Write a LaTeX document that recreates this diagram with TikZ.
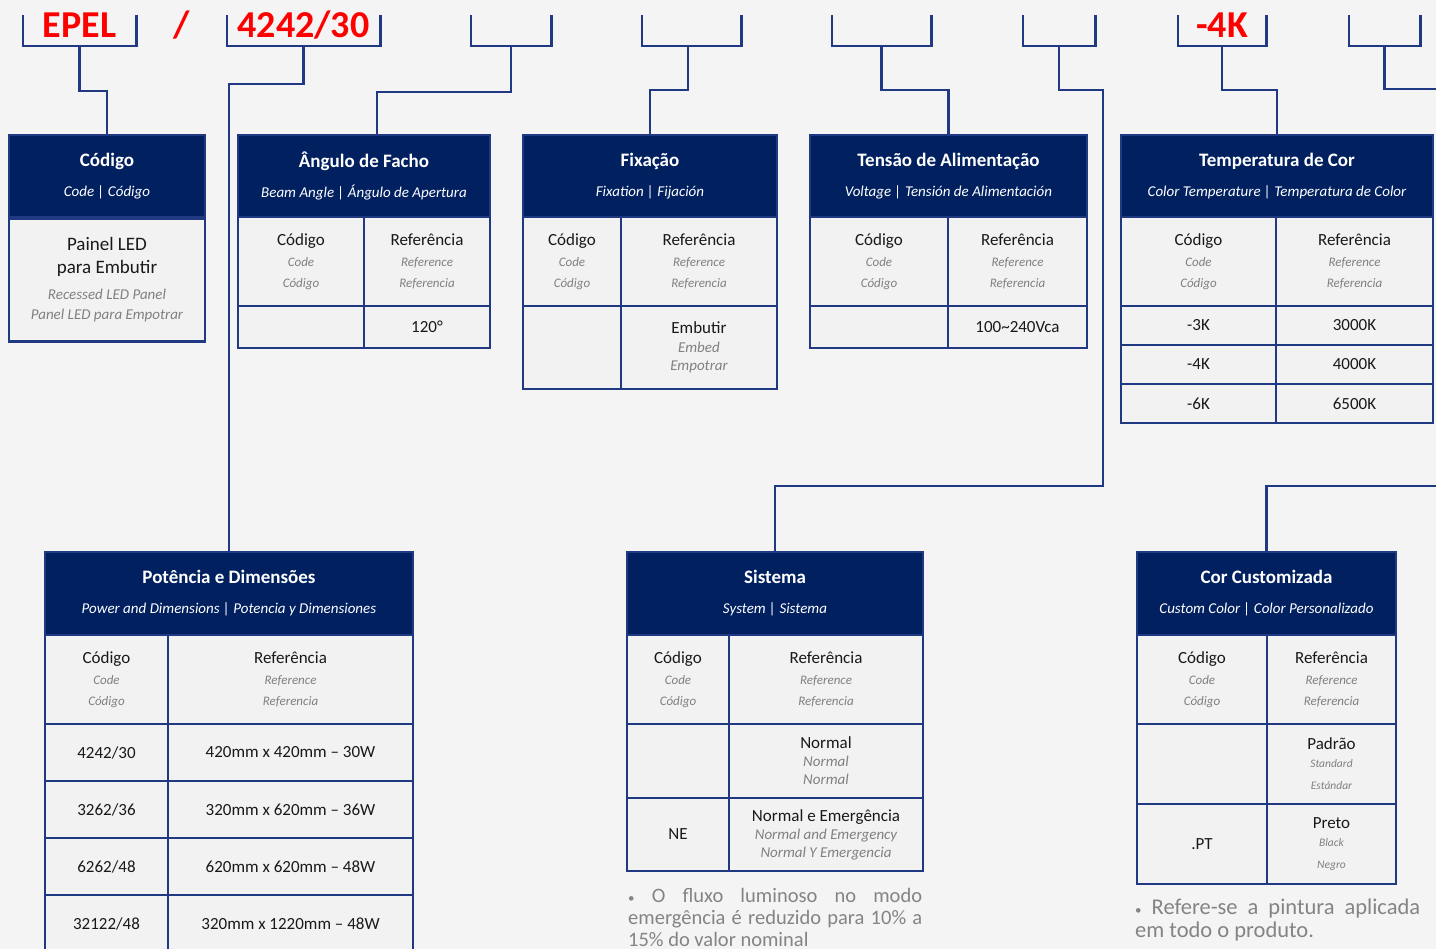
\documentclass[tikz,border=0pt]{standalone}
\usepackage{fontspec}
\setmainfont{Carlito}
\usepackage{tikz}
\usepackage{xcolor}
\definecolor{epnavy}{RGB}{0,32,96}
\definecolor{epline}{RGB}{33,57,130}
\definecolor{epbg}{RGB}{244,244,244}
\definecolor{epcell}{RGB}{242,242,242}
\definecolor{epred}{RGB}{255,0,0}
\definecolor{epgray}{RGB}{128,128,128}
\definecolor{epnote}{RGB}{132,132,132}
\tikzstyle{link} = [line width=2.6pt, color=epline]
\newcommand{\hdtitle}[1]{{\fontsize{19}{22}\selectfont\bfseries #1}}
\newcommand{\hdsub}[1]{{\fontsize{15}{18}\selectfont\itshape #1}}
\newcommand{\hdgray}[1]{{\fontsize{13}{16}\selectfont\itshape\color{epgray}#1}}
\newcommand{\bodygray}[1]{{\fontsize{15}{18}\selectfont\itshape\color{epgray}#1}}
\newcommand{\smallgray}[1]{{\fontsize{11.5}{13}\selectfont\itshape\color{epgray}#1}}
\newcommand{\notedot}{{\fontsize{13}{13}\selectfont•}}

\begin{document}
\begin{tikzpicture}[x=1pt, y=-1pt,
    codebox/.style={rectangle, minimum height=31, text height=23pt, text depth=8pt, inner sep=0pt, text=epred, font=\fontsize{38}{40}\selectfont\bfseries},
    header/.style={rectangle, draw=epline, line width=2.6pt, fill=epnavy, text=white, align=center, inner sep=0pt, font=\fontsize{15}{30}\selectfont},
    cell/.style={rectangle, draw=epline, line width=2.6pt, fill=epcell, align=center, inner sep=0pt, text=black!90, font=\fontsize{17}{21}\selectfont},
    note/.style={anchor=north west, inner sep=0pt, align=justify, text=epnote, font={\fontsize{20.5}{22}\selectfont\tolerance=10000\hyphenpenalty=10000\exhyphenpenalty=10000}}]

\path[use as bounding box] (0,0) rectangle (1436,949);
\clip (0,0) rectangle (1436,949);
\fill[epbg] (0,0) rectangle (1436,949);

% Code brackets
\node[codebox, minimum width=113] (epel) at (79.5,30.5) {EPEL};
\node[codebox] (slash) at (182,30.5) {/};
\node[codebox, minimum width=153] (size) at (303.5,30.5) {4242/30};
\node[codebox, minimum width=80] (angle) at (511,30.5) {};
\node[codebox, minimum width=99] (fix) at (691.5,30.5) {};
\node[codebox, minimum width=99] (volt) at (881.5,30.5) {};
\node[codebox, minimum width=72] (sys) at (1059,30.5) {};
\node[codebox, minimum width=88] (temp) at (1222,30.5) {-4K};
\node[codebox, minimum width=71] (color) at (1384.5,30.5) {};

\draw[link] (epel.north west) |- (epel.south east) -- (epel.north east);
\draw[link] (size.north west) |- (size.south east) -- (size.north east);
\draw[link] (angle.north west) |- (angle.south east) -- (angle.north east);
\draw[link] (fix.north west) |- (fix.south east) -- (fix.north east);
\draw[link] (volt.north west) |- (volt.south east) -- (volt.north east);
\draw[link] (sys.north west) |- (sys.south east) -- (sys.north east);
\draw[link] (temp.north west) |- (temp.south east) -- (temp.north east);
\draw[link] (color.north west) |- (color.south east) -- (color.north east);

% Codigo
\node[header, minimum width=196, minimum height=82] (codigo) at (107,176) {\hdtitle{Código}\\\hdsub{Code | Código}};
\node[cell, minimum width=196, minimum height=123, font=\fontsize{19}{23}\selectfont] (codigo-body) at (107,280) {Painel LED\\para Embutir\\[3pt]\bodygray{Recessed LED Panel}\\[-3pt]\bodygray{Panel LED para Empotrar}};

% Angulo de Facho
\node[header, minimum width=252, minimum height=82] (angulo) at (364,176) {\hdtitle{Ângulo de Facho}\\\hdsub{Beam Angle | Ángulo de Apertura}};
\node[cell, minimum width=126, minimum height=89] (angulo-c1) at (301,261.5) {Código\\\hdgray{Code}\\\hdgray{Código}};
\node[cell, minimum width=126, minimum height=89] (angulo-r1) at (427,261.5) {Referência\\\hdgray{Reference}\\\hdgray{Referencia}};
\node[cell, minimum width=126, minimum height=42] (angulo-c2) at (301,327) {};
\node[cell, minimum width=126, minimum height=42] (angulo-r2) at (427,327) {120°};

% Fixacao
\node[header, minimum width=254, minimum height=82] (fixacao) at (650,176) {\hdtitle{Fixação}\\\hdsub{Fixation | Fijación}};
\node[cell, minimum width=98, minimum height=89] (fixacao-c1) at (572,261.5) {Código\\\hdgray{Code}\\\hdgray{Código}};
\node[cell, minimum width=156, minimum height=89] (fixacao-r1) at (699,261.5) {Referência\\\hdgray{Reference}\\\hdgray{Referencia}};
\node[cell, minimum width=98, minimum height=83] (fixacao-c2) at (572,347.5) {};
\node[cell, minimum width=156, minimum height=83, font=\fontsize{17}{18.5}\selectfont] (fixacao-r2) at (699,347.5) {Embutir\\\bodygray{Embed}\\\bodygray{Empotrar}};

% Tensao
\node[header, minimum width=277, minimum height=82] (tensao) at (948.5,176) {\hdtitle{Tensão de Alimentação}\\\hdsub{Voltage | Tensión de Alimentación}};
\node[cell, minimum width=138, minimum height=89] (tensao-c1) at (879,261.5) {Código\\\hdgray{Code}\\\hdgray{Código}};
\node[cell, minimum width=139, minimum height=89] (tensao-r1) at (1017.5,261.5) {Referência\\\hdgray{Reference}\\\hdgray{Referencia}};
\node[cell, minimum width=138, minimum height=42] (tensao-c2) at (879,327) {};
\node[cell, minimum width=139, minimum height=42] (tensao-r2) at (1017.5,327) {100\textasciitilde 240Vca};

% Temperatura de Cor
\node[header, minimum width=312, minimum height=82] (temperatura) at (1277,176) {\hdtitle{Temperatura de Cor}\\\hdsub{Color Temperature | Temperatura de Color}};
\node[cell, minimum width=155, minimum height=89] (temperatura-c1) at (1198.5,261.5) {Código\\\hdgray{Code}\\\hdgray{Código}};
\node[cell, minimum width=157, minimum height=89] (temperatura-r1) at (1354.5,261.5) {Referência\\\hdgray{Reference}\\\hdgray{Referencia}};
\node[cell, minimum width=155, minimum height=39] (temperatura-c2) at (1198.5,325.5) {-3K};
\node[cell, minimum width=157, minimum height=39] (temperatura-r2) at (1354.5,325.5) {3000K};
\node[cell, minimum width=155, minimum height=39] (temperatura-c3) at (1198.5,364.5) {-4K};
\node[cell, minimum width=157, minimum height=39] (temperatura-r3) at (1354.5,364.5) {4000K};
\node[cell, minimum width=155, minimum height=39] (temperatura-c4) at (1198.5,403.5) {-6K};
\node[cell, minimum width=157, minimum height=39] (temperatura-r4) at (1354.5,403.5) {6500K};

% Potencia e Dimensoes
\node[header, minimum width=368, minimum height=83] (potencia) at (229,593.5) {\hdtitle{Potência e Dimensões}\\\hdsub{Power and Dimensions | Potencia y Dimensiones}};
\node[cell, minimum width=123, minimum height=89] (potencia-c1) at (106.5,679.5) {Código\\\hdgray{Code}\\\hdgray{Código}};
\node[cell, minimum width=245, minimum height=89] (potencia-r1) at (290.5,679.5) {Referência\\\hdgray{Reference}\\\hdgray{Referencia}};
\node[cell, minimum width=123, minimum height=57] (potencia-c2) at (106.5,752.5) {4242/30};
\node[cell, minimum width=245, minimum height=57] (potencia-r2) at (290.5,752.5) {420mm x 420mm – 30W};
\node[cell, minimum width=123, minimum height=57] (potencia-c3) at (106.5,809.5) {3262/36};
\node[cell, minimum width=245, minimum height=57] (potencia-r3) at (290.5,809.5) {320mm x 620mm – 36W};
\node[cell, minimum width=123, minimum height=57] (potencia-c4) at (106.5,866.5) {6262/48};
\node[cell, minimum width=245, minimum height=57] (potencia-r4) at (290.5,866.5) {620mm x 620mm – 48W};
\node[cell, minimum width=123, minimum height=57] (potencia-c5) at (106.5,923.5) {32122/48};
\node[cell, minimum width=245, minimum height=57] (potencia-r5) at (290.5,923.5) {320mm x 1220mm – 48W};

% Sistema
\node[header, minimum width=296, minimum height=83] (sistema) at (775,593.5) {\hdtitle{Sistema}\\\hdsub{System | Sistema}};
\node[cell, minimum width=102, minimum height=89] (sistema-c1) at (678,679.5) {Código\\\hdgray{Code}\\\hdgray{Código}};
\node[cell, minimum width=194, minimum height=89] (sistema-r1) at (826,679.5) {Referência\\\hdgray{Reference}\\\hdgray{Referencia}};
\node[cell, minimum width=102, minimum height=74] (sistema-c2) at (678,761) {};
\node[cell, minimum width=194, minimum height=74, font=\fontsize{17}{18}\selectfont] (sistema-r2) at (826,761) {Normal\\\bodygray{Normal}\\\bodygray{Normal}};
\node[cell, minimum width=102, minimum height=73] (sistema-c3) at (678,834.5) {NE};
\node[cell, minimum width=194, minimum height=73, font=\fontsize{17}{18}\selectfont] (sistema-r3) at (826,834.5) {Normal e Emergência\\\bodygray{Normal and Emergency}\\\bodygray{Normal Y Emergencia}};
\node[note, text width=294] (sistema-note) at (628,888) {\notedot{} O fluxo luminoso no modo emergência é reduzido para 10\% a 15\% do valor nominal};

% Cor Customizada
\node[header, minimum width=259, minimum height=83] (cor) at (1266.5,593.5) {\hdtitle{Cor Customizada}\\\hdsub{Custom Color | Color Personalizado}};
\node[cell, minimum width=130, minimum height=89] (cor-c1) at (1202,679.5) {Código\\\hdgray{Code}\\\hdgray{Código}};
\node[cell, minimum width=129, minimum height=89] (cor-r1) at (1331.5,679.5) {Referência\\\hdgray{Reference}\\\hdgray{Referencia}};
\node[cell, minimum width=130, minimum height=80] (cor-c2) at (1202,764) {};
\node[cell, minimum width=129, minimum height=80, font=\fontsize{17}{18}\selectfont] (cor-r2) at (1331.5,764) {Padrão\\\smallgray{Standard}\\[4pt]\smallgray{Estándar}};
\node[cell, minimum width=130, minimum height=80] (cor-c3) at (1202,844) {.PT};
\node[cell, minimum width=129, minimum height=80, font=\fontsize{17}{18}\selectfont] (cor-r3) at (1331.5,844) {Preto\\\smallgray{Black}\\[4pt]\smallgray{Negro}};
\node[note, text width=285, font={\fontsize{22.5}{23}\selectfont\tolerance=10000\hyphenpenalty=10000\exhyphenpenalty=10000}] (cor-note) at (1135,899) {\notedot{} Refere-se a pintura aplicada em todo o produto.};

% Connections
\coordinate (sysbend) at (1103,486);
\coordinate (colorend) at (1440,89);
\coordinate (corend) at (1440,486);
\draw[link] (epel.south) -- ++(0,45) -| (codigo.north);
\draw[link] (size.south) -- ++(0,38) -| (potencia.north);
\draw[link] (angle.south) -- ++(0,46) -| ([xshift=13]angulo.north);
\draw[link] ([xshift=-3.5]fix.south) -- ++(0,44) -| (fixacao.north);
\draw[link] (volt.south) -- ++(0,44) -| (tensao.north);
\draw[link] (sys.south) -- ++(0,44) -| (sysbend) -| (sistema.north);
\draw[link] (temp.south) -- ++(0,44) -| (temperatura.north);
\draw[link] (color.south) |- (colorend);
\draw[link] (corend) -| (cor.north);
\end{tikzpicture}
\end{document}
